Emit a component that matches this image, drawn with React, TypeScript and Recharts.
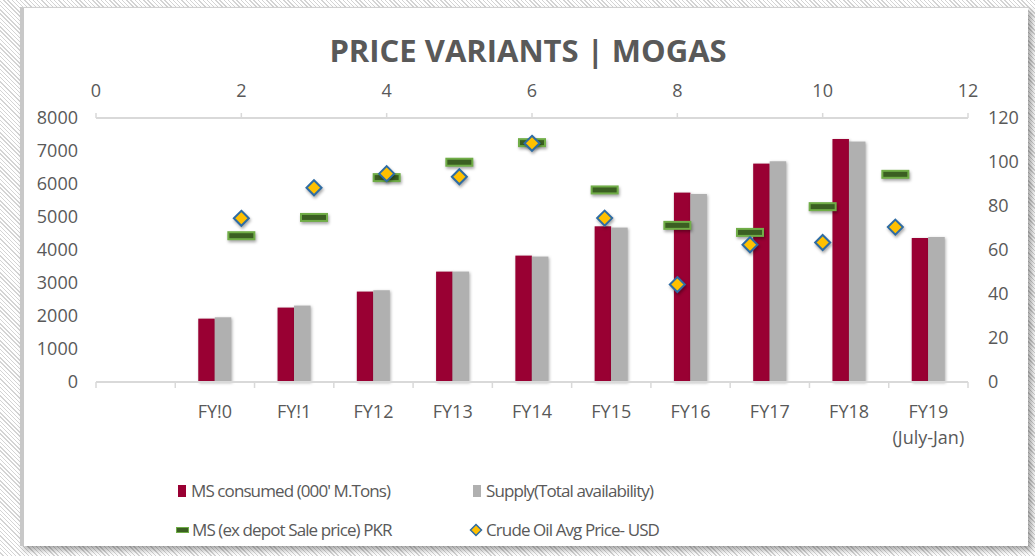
import { ComposedChart, Bar, Scatter, XAxis, YAxis } from "recharts";

// bar categories (first slot is left empty in the original)
const categories = ["", "FY!0", "FY!1", "FY12", "FY13", "FY14", "FY15", "FY16", "FY17", "FY18", "FY19\n(July-Jan)"];
const msConsumed = [null, 1920, 2255, 2740, 3345, 3830, 4718, 5739, 6618, 7364, 4364];
const supply = [null, 1960, 2315, 2780, 3345, 3800, 4678, 5697, 6688, 7285, 4394];

// price series sit on the secondary (top, 0-12) x axis
const pricePositions = [2, 3, 4, 5, 6, 7, 8, 9, 10, 11];
const exDepotPrice = [66.5, 74.8, 92.9, 99.9, 108.8, 87.3, 71.2, 68, 79.7, 94.4];
const crudePrice = [74.4, 88.3, 94.7, 93.3, 108.5, 74.5, 44.3, 62.4, 63.4, 70.4];

const topTicks = [0, 2, 4, 6, 8, 10, 12];
const leftTicks = [0, 1000, 2000, 3000, 4000, 5000, 6000, 7000, 8000];
const rightTicks = [0, 20, 40, 60, 80, 100, 120];

const RED = "#990033";
const GREY = "#b0b0b0";
const AXIS = "#d9d9d9";
const TEXT = "#595959";
const FONT = "'Open Sans', sans-serif";
const SHADOW = "drop-shadow(1.5px 1.5px 1.5px rgba(0,0,0,0.3))";

const PLOT_LEFT = 96;
const PLOT_RIGHT = 968;
const BAND = (PLOT_RIGHT - PLOT_LEFT) / categories.length;

const barData = categories.map((name, i) => ({
  name,
  consumed: msConsumed[i],
  supply: supply[i],
}));
const exDepotData = pricePositions.map((x, i) => ({ x, y: exDepotPrice[i] }));
const crudeData = pricePositions.map((x, i) => ({ x, y: crudePrice[i] }));

function CategoryTick(props: any) {
  const { x, y, payload, index } = props;
  const lines = String(payload.value).split("\n");
  const last = index === categories.length - 1;
  return (
    <g>
      <line x1={x - BAND / 2} x2={x - BAND / 2} y1={y} y2={y + 6} stroke={AXIS} strokeWidth={1.5} />
      {last && <line x1={x + BAND / 2} x2={x + BAND / 2} y1={y} y2={y + 6} stroke={AXIS} strokeWidth={1.5} />}
      {lines.map((l, i) => (
        <text key={i} x={x} y={y + 36 + i * 26} textAnchor="middle" fill={TEXT} fontSize={18} fontFamily={FONT}>
          {l}
        </text>
      ))}
    </g>
  );
}

function ShadowBar(props: any) {
  const { x, y, width, height, fill } = props;
  if (!height || height <= 0) return null;
  return <rect x={x} y={y} width={width} height={height} fill={fill} style={{ filter: SHADOW }} />;
}

function DashMarker(props: any) {
  const { cx, cy } = props;
  if (cx == null || cy == null) return null;
  return (
    <g style={{ filter: "drop-shadow(1px 2px 1.5px rgba(0,0,0,0.35))" }}>
      <rect x={cx - 13} y={cy - 3.5} width={26} height={7} fill="#3b5f22" stroke="#70ad47" strokeWidth={2} />
    </g>
  );
}

function DiamondMarker(props: any) {
  const { cx, cy } = props;
  if (cx == null || cy == null) return null;
  const r = 7.5;
  return (
    <path
      d={`M${cx},${cy - r} L${cx + r},${cy} L${cx},${cy + r} L${cx - r},${cy} Z`}
      fill="#ffc000"
      stroke="#2e6ca4"
      strokeWidth={2}
      style={{ filter: "drop-shadow(1px 2px 1.5px rgba(0,0,0,0.35))" }}
    />
  );
}

function LegendKey({ kind }: { kind: string }) {
  if (kind === "dash")
    return <span style={{ display: "inline-block", width: 11, height: 4, background: "#3b5f22", border: "1.5px solid #70ad47", marginRight: 3 }} />;
  if (kind === "diamond")
    return (
      <svg width={14} height={14} style={{ marginRight: 3 }}>
        <path d="M7,1.5 L12.5,7 L7,12.5 L1.5,7 Z" fill="#ffc000" stroke="#2e6ca4" strokeWidth={1.5} />
      </svg>
    );
  return <span style={{ display: "inline-block", width: 8, height: 12, background: kind, marginRight: 5 }} />;
}

const legendItems = [
  { label: "MS consumed (000' M.Tons)", kind: RED, left: 178, top: 479 },
  { label: "Supply(Total availability)", kind: GREY, left: 473, top: 479 },
  { label: "MS (ex depot Sale price) PKR", kind: "dash", left: 176, top: 518 },
  { label: "Crude Oil Avg Price- USD", kind: "diamond", left: 469, top: 518 },
];

export default function App() {
  return (
    <div
      style={{
        position: "absolute",
        left: 0,
        top: 0,
        width: 1035,
        height: 556,
        overflow: "hidden",
        background: "repeating-linear-gradient(45deg, #ffffff 0px, #ffffff 2px, #d4d4d4 2px, #d4d4d4 3px)",
      }}
    >
      <div
        style={{
          position: "absolute",
          left: 20,
          top: 7,
          width: 1004,
          height: 538,
          background: "#fff",
          borderLeft: "4px solid #c8c8c8",
          borderTop: "1px solid #d0d0d0",
          boxShadow: "4px 4px 6px rgba(0,0,0,0.35)",
        }}
      />
      <div
        style={{
          position: "absolute",
          left: 0,
          width: 1056,
          top: 29,
          textAlign: "center",
          fontFamily: FONT,
          fontWeight: 700,
          fontSize: 31,
          color: TEXT,
        }}
      >
        PRICE VARIANTS | MOGAS
      </div>
      <div style={{ position: "absolute", left: 0, top: 0 }}>
        <ComposedChart
          width={1035}
          height={556}
          data={barData}
          margin={{ top: 78, right: 7, bottom: 114, left: 36 }}
          barGap={0}
        >
          <XAxis
            xAxisId="cat"
            dataKey="name"
            type="category"
            orientation="bottom"
            height={60}
            stroke={AXIS}
            axisLine={{ stroke: AXIS, strokeWidth: 2 }}
            tickLine={false}
            tickSize={0}
            tickMargin={0}
            interval={0}
            tick={<CategoryTick />}
          />
          <XAxis
            xAxisId="top"
            dataKey="x"
            type="number"
            orientation="top"
            domain={[0, 12]}
            ticks={topTicks}
            height={40}
            axisLine={{ stroke: AXIS, strokeWidth: 2 }}
            tickLine={{ stroke: AXIS, strokeWidth: 1.5 }}
            tickSize={5}
            tickMargin={16}
            tick={{ fill: TEXT, fontSize: 18, fontFamily: FONT }}
          />
          <YAxis
            yAxisId="left"
            orientation="left"
            domain={[0, 8000]}
            ticks={leftTicks}
            width={60}
            axisLine={false}
            tickLine={false}
            tickSize={6}
            tickMargin={12}
            tick={{ fill: TEXT, fontSize: 18, fontFamily: FONT }}
          />
          <YAxis
            yAxisId="right"
            orientation="right"
            domain={[0, 120]}
            ticks={rightTicks}
            width={60}
            axisLine={false}
            tickLine={false}
            tickSize={6}
            tickMargin={14}
            tick={{ fill: TEXT, fontSize: 18, fontFamily: FONT }}
          />
          <Bar xAxisId="cat" yAxisId="left" dataKey="consumed" fill={RED} barSize={16.5} shape={<ShadowBar />} isAnimationActive={false} />
          <Bar xAxisId="cat" yAxisId="left" dataKey="supply" fill={GREY} barSize={16.5} shape={<ShadowBar />} isAnimationActive={false} />
          <Scatter
            xAxisId="top"
            yAxisId="right"
            data={exDepotData}
            dataKey="y"
            shape={<DashMarker />}
            isAnimationActive={false}
          />
          <Scatter
            xAxisId="top"
            yAxisId="right"
            data={crudeData}
            dataKey="y"
            shape={<DiamondMarker />}
            isAnimationActive={false}
          />
        </ComposedChart>
      </div>
      {legendItems.map((it) => (
        <div
          key={it.label}
          style={{
            position: "absolute",
            left: it.left,
            top: it.top,
            display: "flex",
            alignItems: "center",
            fontFamily: FONT,
            fontSize: 17,
            letterSpacing: -0.9,
            color: TEXT,
            whiteSpace: "nowrap",
          }}
        >
          <LegendKey kind={it.kind} />
          {it.label}
        </div>
      ))}
    </div>
  );
}
